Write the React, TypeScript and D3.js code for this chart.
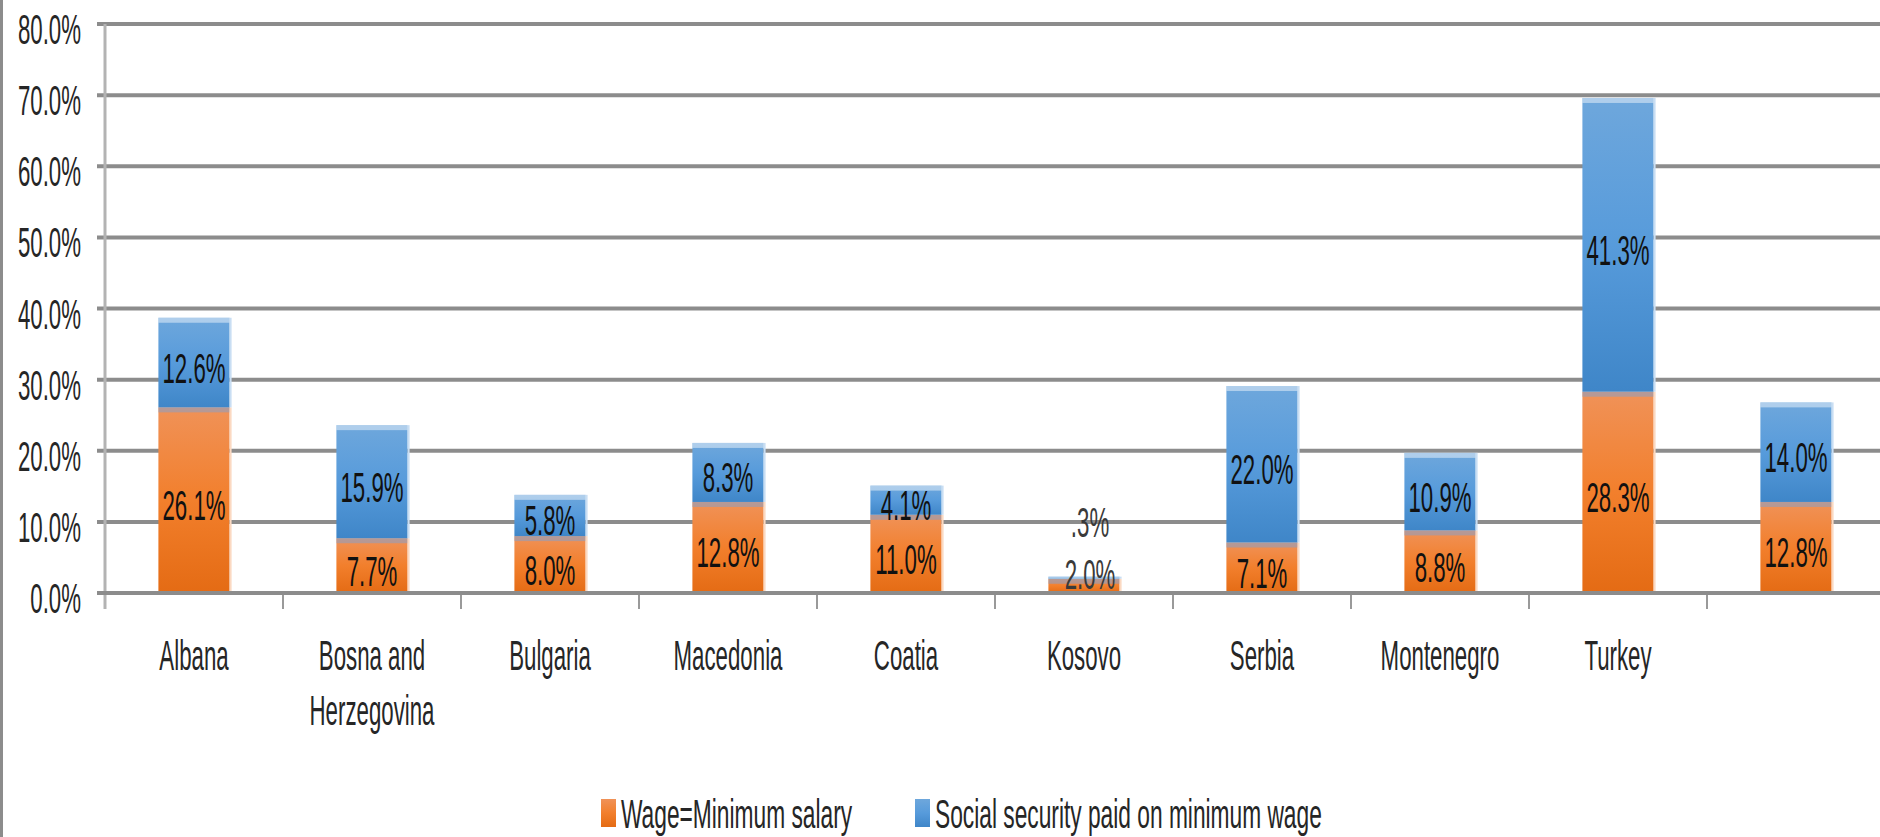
import React from 'react';
import * as d3 from 'd3';

const categories = ['Albana', 'Bosna and Herzegovina', 'Bulgaria', 'Macedonia', 'Coatia', 'Kosovo', 'Serbia', 'Montenegro', 'Turkey', ''];
const wageValues = [26.1, 7.7, 8.0, 12.8, 11.0, 2.0, 7.1, 8.8, 28.3, 12.8];
const socialValues = [12.6, 15.9, 5.8, 8.3, 4.1, 0.3, 22.0, 10.9, 41.3, 14.0];
const yTicks = [0, 10, 20, 30, 40, 50, 60, 70, 80];
const seriesNames = ['Wage=Minimum salary', 'Social security paid on minimum wage'];

const W = 1880;
const H = 837;
const FONT = '"Liberation Sans", Arial, sans-serif';
const SX = 0.53; // squeeze text horizontally, the picture is narrow

const margin = { left: 105, top: 24, bottom: 593 };

const fmt = (v: number) => (v < 1 ? v.toFixed(1).replace(/^0/, '') : v.toFixed(1)) + '%';

// greedy wrap for the category names
const wrap = (s: string, max = 10): string[] => {
    const words = s.split(' ');
    const lines: string[] = [];
    let cur = '';
    words.forEach(w => {
        if (cur && (cur + ' ' + w).length > max) {
            lines.push(cur);
            cur = w;
        } else {
            cur = cur ? cur + ' ' + w : w;
        }
    });
    if (cur) lines.push(cur);
    return lines;
};

const Txt: React.FC<{ x: number; y: number; anchor?: string; size?: number; sx?: number; fill?: string; children: React.ReactNode }> = ({ x, y, anchor = 'middle', size = 42, sx = SX, fill = '#262626', children }) => (
    <g transform={`translate(${x},${y}) scale(${sx},1)`}>
        <text textAnchor={anchor} fontFamily={FONT} fontSize={size} fill={fill}>{children}</text>
    </g>
);

export default function App() {
    const rows = categories.map((c, i) => ({ cat: String(i), wage: wageValues[i], social: socialValues[i] }));
    const stack = d3.stack<any>().keys(['wage', 'social'])(rows);

    const step = 178;
    const x = d3.scaleBand<string>()
        .domain(categories.map((_, i) => String(i)))
        .range([margin.left, margin.left + step * categories.length])
        .paddingInner(0.6)
        .paddingOuter(0.3);

    const y = d3.scaleLinear().domain([0, 80]).range([margin.bottom, margin.top]);

    const grads = ['gOrange', 'gBlue'];

    return (
        <svg width={W} height={H} style={{ position: 'absolute', left: 0, top: 0, background: '#fff' }}>
            <defs>
                <linearGradient id="gOrange" x1="0" y1="0" x2="0" y2="1">
                    <stop offset="0%" stopColor="#f09258" />
                    <stop offset="50%" stopColor="#f27f2c" />
                    <stop offset="100%" stopColor="#e46b14" />
                </linearGradient>
                <linearGradient id="gBlue" x1="0" y1="0" x2="0" y2="1">
                    <stop offset="0%" stopColor="#6ea7dc" />
                    <stop offset="50%" stopColor="#579bdb" />
                    <stop offset="100%" stopColor="#3f86c8" />
                </linearGradient>
            </defs>

            {/* outer border on the left */}
            <line x1={1.5} x2={1.5} y1={0} y2={H} stroke="#8c8c8c" strokeWidth={3} />

            {/* gridlines + y labels */}
            {yTicks.map(t => (
                <g key={t}>
                    <line x1={margin.left - 8} x2={W} y1={y(t)} y2={y(t)} stroke="#8c8c8c" strokeWidth={4} />
                    <Txt x={81} y={y(t) + 20} anchor="end">{t.toFixed(1)}%</Txt>
                </g>
            ))}

            {/* y axis */}
            <line x1={margin.left} x2={margin.left} y1={margin.top} y2={margin.bottom + 16} stroke="#b3b3b3" strokeWidth={3} />

            {/* category ticks */}
            {categories.map((_, i) => {
                const tx = margin.left + step * (i + 1);
                return <line key={i} x1={tx} x2={tx} y1={margin.bottom} y2={margin.bottom + 16} stroke="#9a9a9a" strokeWidth={2} />;
            })}

            {/* bars */}
            {stack.map((layer, si) => (
                <g key={si}>
                    {layer.map((d, i) => {
                        const bx = x(String(i)) as number;
                        const bw = x.bandwidth();
                        const y0 = y(d[1]);
                        const h = y(d[0]) - y(d[1]);
                        return (
                            <g key={i}>
                                <rect x={bx} y={y0} width={bw} height={h} fill={`url(#${grads[si]})`} />
                                {si === 0 && <rect x={bx} y={y0} width={bw} height={Math.min(5, h)} fill="#8f9fc0" opacity={0.6} />}
                                {si === 1 && <rect x={bx} y={y0} width={bw} height={Math.min(5, h)} fill="#ffffff" opacity={0.45} />}
                                <rect x={bx + bw} y={y0} width={2} height={h} fill={si === 0 ? '#fbd9c2' : '#c9def3'} />
                            </g>
                        );
                    })}
                </g>
            ))}

            {/* zero line over the bar feet */}
            <line x1={margin.left - 8} x2={W} y1={y(0)} y2={y(0)} stroke="#8c8c8c" strokeWidth={4} />

            {/* data labels */}
            {stack.map((layer, si) => layer.map((d, i) => {
                const cx = (x(String(i)) as number) + x.bandwidth() / 2;
                const top = y(d[1]);
                const h = y(d[0]) - top;
                let cy = top + h / 2 + 5;
                if (h < 20) cy = si === 0 ? top - 5 : y(d[1]) - 55; // too thin, Excel pushes them up
                const v = si === 0 ? wageValues[i] : socialValues[i];
                return (
                    <Txt key={`${si}-${i}`} x={cx + (h < 20 ? 6 : 0)} y={cy + 15} fill={h < 20 ? '#3a3a3a' : '#111'}>{fmt(v)}</Txt>
                );
            }))}

            {/* category labels */}
            {categories.map((c, i) => {
                const cx = (x(String(i)) as number) + x.bandwidth() / 2;
                return wrap(c).map((line, li) => (
                    <Txt key={`${i}-${li}`} x={cx} y={670 + li * 55}>{line}</Txt>
                ));
            })}

            {/* legend */}
            {seriesNames.map((name, si) => {
                const lx = si === 0 ? 601 : 915;
                return (
                    <g key={name}>
                        <rect x={lx} y={799} width={15} height={28} fill={`url(#${grads[si]})`} />
                        <Txt x={lx + 20} y={828} anchor="start" size={41} sx={0.555}>{name}</Txt>
                    </g>
                );
            })}
        </svg>
    );
}
